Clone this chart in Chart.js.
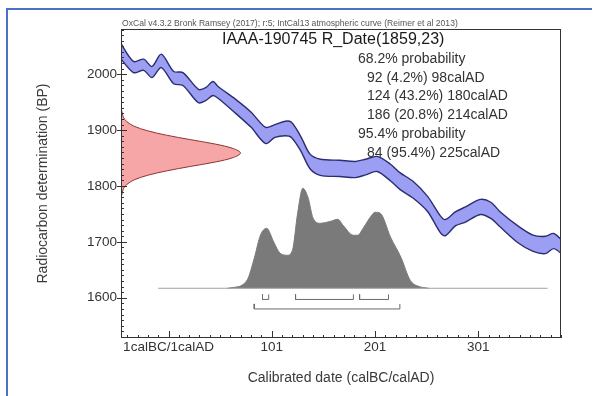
<!DOCTYPE html>
<html>
<head>
<meta charset="utf-8">
<style>
  body { margin: 0; background: #fff; }
  .wrap { position: relative; width: 593px; height: 396px; overflow: hidden; }
  .edge {
    position: absolute; left: 6px; top: 8px; width: 584px; height: 400px;
    border-top: 2px solid #4a72c4; border-left: 2px solid #4a72c4;
    pointer-events: none;
  }
</style>
</head>
<body>
<div class="wrap">
  <canvas id="calChart" width="593" height="396"></canvas>
  <div class="edge"></div>
</div>
<script src="https://cdn.jsdelivr.net/npm/chart.js"></script>
<script>
  // calibration curve band (IntCal13)
  const curveYears = [-47, -33, -23, -15, -6, 6, 15, 30, 37, 44, 49, 66, 81, 95, 104, 114, 120, 129, 138, 148,
    167, 182, 192, 203, 216, 225, 238, 252, 264, 269, 279, 288, 303, 313, 322, 339, 354, 366, 374, 384];
  const curveUpper = [2061, 2023, 2027, 2014, 2036, 2005, 2003, 1973, 1976, 1987, 1978, 1955, 1932, 1905, 1910, 1916, 1914, 1889, 1857, 1848,
    1846, 1844, 1848, 1853, 1839, 1824, 1808, 1781, 1747, 1740, 1754, 1762, 1776, 1771, 1754, 1729, 1712, 1710, 1715, 1699];
  const curveLower = [2032, 2003, 2007, 1994, 2012, 1983, 1980, 1949, 1953, 1962, 1957, 1930, 1905, 1876, 1887, 1890, 1887, 1863, 1831, 1819,
    1817, 1815, 1820, 1826, 1809, 1794, 1778, 1754, 1717, 1711, 1729, 1735, 1749, 1742, 1727, 1699, 1683, 1679, 1688, 1675];

  // measured radiocarbon date, relative density per BP
  const measBP = [1939, 1931, 1923, 1915, 1907, 1899, 1891, 1883, 1875, 1867, 1859, 1851, 1843, 1835, 1827, 1819, 1811, 1803, 1795, 1787, 1779];
  const measDensity = [0, 0.01, 0.02, 0.05, 0.11, 0.22, 0.38, 0.58, 0.79, 0.94, 1, 0.94, 0.79, 0.58, 0.38, 0.22, 0.11, 0.05, 0.02, 0.01, 0];

  // calibrated distribution, relative probability per year
  const postYears = [58, 65, 72, 78, 84, 90, 96, 103, 109, 116, 121, 126, 131, 136, 141, 148, 158, 165, 170, 180,
    184, 190, 197, 201, 206, 216, 226, 235, 243, 253];
  const postProb = [0, 0.01, 0.03, 0.1, 0.3, 0.53, 0.6, 0.46, 0.35, 0.33, 0.38, 0.75, 1, 0.91, 0.7, 0.65, 0.67, 0.69, 0.63, 0.53,
    0.53, 0.61, 0.72, 0.76, 0.75, 0.51, 0.31, 0.08, 0.02, 0];

  const range68From = [92, 124, 186];
  const range68To = [98, 180, 214];
  const range68Pct = [4.2, 43.2, 20.8];
  const range95From = [84];
  const range95To = [225];
  const range95Pct = [95.4];

  const xTickValues = [1, 101, 201, 301];
  const xTickLabels = ["1calBC/1calAD", "101", "201", "301"];
  const yTickValues = [1600, 1700, 1800, 1900, 2000];

  // placement
  const X_MIN = -45, X_MAX = 381, Y_MIN = 1528, Y_MAX = 2081;
  const MEAS_WIDTH = 115.7;
  const POST_BASE = 1617, POST_HEIGHT = 179;
  const BASE_FROM = -9, BASE_TO = 368;
  const LEVEL_68 = 1597, LEVEL_95 = 1580, BRACKET_TICK = 9;

  const FONT = "'Liberation Sans', Arial, sans-serif";
  Chart.defaults.font.family = FONT;

  function bracket(from, to, level) {
    return {
      data: [
        { x: from, y: level + BRACKET_TICK },
        { x: from, y: level },
        { x: to, y: level },
        { x: to, y: level + BRACKET_TICK },
      ],
      showLine: true, borderColor: "#6a6a6a", borderWidth: 1, pointRadius: 0, fill: false,
    };
  }

  const datasets = [
    {
      data: curveYears.map((x, i) => ({ x, y: curveUpper[i] })),
      showLine: true, borderColor: "#2b2e70", borderWidth: 1.4, pointRadius: 0, tension: 0.3, fill: false,
    },
    {
      data: curveYears.map((x, i) => ({ x, y: curveLower[i] })),
      showLine: true, borderColor: "#2b2e70", borderWidth: 1.4, pointRadius: 0, tension: 0.3,
      fill: "-1", backgroundColor: "#9c9ef4",
    },
    {
      data: measBP.map((y, i) => ({ x: X_MIN + measDensity[i] * MEAS_WIDTH, y })),
      showLine: true, borderColor: "#8e3434", borderWidth: 1, pointRadius: 0, tension: 0.35,
      fill: "shape", backgroundColor: "#f6a6a6",
    },
    {
      data: [{ x: BASE_FROM, y: POST_BASE }, { x: BASE_TO, y: POST_BASE }],
      showLine: true, borderColor: "#a0a0a0", borderWidth: 1, pointRadius: 0, fill: false,
    },
    {
      data: postYears.map((x, i) => ({ x, y: POST_BASE + postProb[i] * POST_HEIGHT })),
      showLine: true, borderColor: "#7a7a7a", borderWidth: 1, pointRadius: 0,
      cubicInterpolationMode: "monotone", fill: { value: POST_BASE }, backgroundColor: "#7a7a7a",
    },
  ];
  range68From.forEach((f, i) => datasets.push(bracket(f, range68To[i], LEVEL_68)));
  range95From.forEach((f, i) => datasets.push(bracket(f, range95To[i], LEVEL_95)));

  const infoLines = [["68.2% probability", 0]]
    .concat(range68From.map((f, i) => [`${f} (${range68Pct[i]}%) ${range68To[i]}calAD`, 1]))
    .concat([["95.4% probability", 0]])
    .concat(range95From.map((f, i) => [`${f} (${range95Pct[i]}%) ${range95To[i]}calAD`, 1]));

  // frame, inner ticks and the OxCal texts
  const oxcalFrame = {
    id: "oxcalFrame",
    afterDatasetsDraw(chart) {
      const { ctx, chartArea: a, scales: { x, y } } = chart;
      ctx.save();
      ctx.strokeStyle = "#333";
      ctx.lineWidth = 1;
      ctx.strokeRect(a.left + 0.5, a.top + 0.5, a.right - a.left - 1, a.bottom - a.top - 1);
      ctx.beginPath();
      for (let v = Math.ceil(Y_MIN / 10) * 10; v <= Y_MAX; v += 10) {
        const py = Math.round(y.getPixelForValue(v)) + 0.5;
        const major = v % 100 === 0;
        ctx.moveTo(a.left - (major ? 4 : 0), py);
        ctx.lineTo(a.left + (major ? 6 : 3), py);
      }
      for (let v = -39; v <= X_MAX; v += 10) {
        const px = Math.round(x.getPixelForValue(v)) + 0.5;
        const major = (v - 1) % 100 === 0;
        ctx.moveTo(px, a.bottom);
        ctx.lineTo(px, a.bottom - (major ? 7 : 3));
      }
      ctx.stroke();

      ctx.fillStyle = "#555";
      ctx.font = "8.6px " + FONT;
      ctx.textBaseline = "alphabetic";
      ctx.fillText("OxCal v4.3.2 Bronk Ramsey (2017); r:5; IntCal13 atmospheric curve (Reimer et al 2013)", a.left + 1, 26);

      ctx.fillStyle = "#1a1a1a";
      ctx.font = "16px " + FONT;
      ctx.textBaseline = "middle";
      ctx.fillText("IAAA-190745 R_Date(1859,23)", 222, 40);

      ctx.fillStyle = "#333";
      ctx.font = "14px " + FONT;
      infoLines.forEach(([t, indent], i) => {
        ctx.fillText(t, indent ? 367 : 358, 59 + i * 18.8);
      });
      ctx.restore();
    },
  };

  new Chart(document.getElementById("calChart"), {
    type: "scatter",
    data: { datasets },
    options: {
      responsive: false,
      animation: false,
      layout: { padding: { left: 0, top: 29, right: 32, bottom: 0 } },
      plugins: { legend: { display: false }, tooltip: { enabled: false } },
      scales: {
        x: {
          type: "linear", min: X_MIN, max: X_MAX,
          grid: { display: false, tickLength: 0 }, border: { display: false },
          afterBuildTicks: (s) => { s.ticks = xTickValues.map((v) => ({ value: v })); },
          afterFit: (s) => { s.height = 58; },
          ticks: {
            autoSkip: false, maxRotation: 0, minRotation: 0, padding: 1,
            color: "#333", font: { size: 13.5 },
            callback: (v, i) => xTickLabels[i],
          },
          title: {
            display: true, text: "Calibrated date (calBC/calAD)", color: "#3a3a3a",
            font: { size: 14 }, padding: { top: 0, bottom: 9 },
          },
        },
        y: {
          type: "linear", min: Y_MIN, max: Y_MAX,
          grid: { display: false, tickLength: 0 }, border: { display: false },
          afterBuildTicks: (s) => { s.ticks = yTickValues.map((v) => ({ value: v })); },
          afterFit: (s) => { s.width = 121; },
          ticks: {
            padding: 4, color: "#333", font: { size: 13.5 },
            callback: (v) => String(v),
          },
          title: {
            display: true, text: "Radiocarbon determination (BP)", color: "#3a3a3a",
            font: { size: 14 }, padding: { top: 35, bottom: 0 },
          },
        },
      },
    },
    plugins: [oxcalFrame],
  });
</script>
</body>
</html>
